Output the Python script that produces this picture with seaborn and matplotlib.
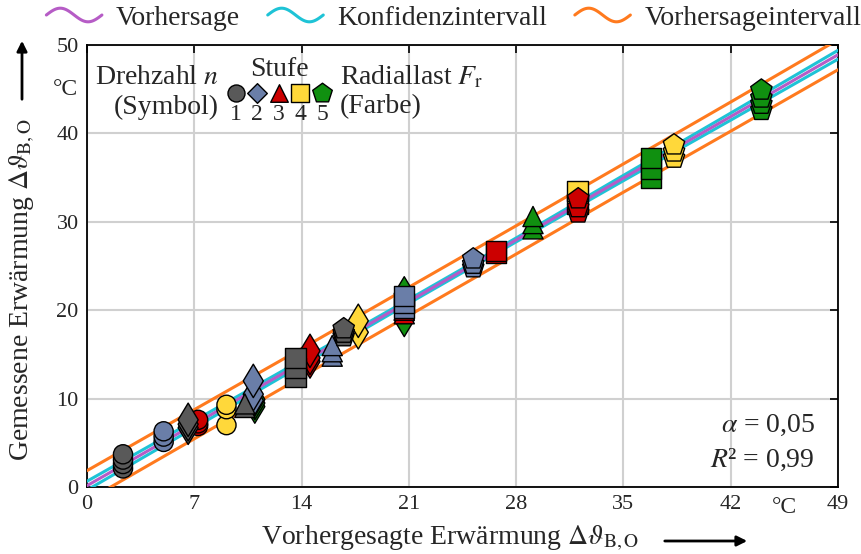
import numpy as np
import pandas as pd
import matplotlib
matplotlib.use("Agg")
import matplotlib.pyplot as plt
import seaborn as sns
from matplotlib.lines import Line2D
from matplotlib.legend_handler import HandlerBase

# ---------------- data ----------------
# each group: predicted value, Drehzahl stage (marker), Radiallast stage (colour), measured values
grp_pred = [2.35, 5.0, 6.6, 7.25, 9.1, 10.3, 10.95, 10.85, 13.6, 14.55, 16.0, 16.75, 17.7,
            20.7, 20.7, 20.7, 25.2, 26.7, 29.1, 32.0, 32.05, 36.8, 38.3, 44.0]
grp_n = [1, 1, 2, 1, 1, 3, 2, 2, 4, 2, 3, 5, 2,
         2, 3, 4, 5, 4, 3, 4, 5, 4, 5, 5]
grp_f = [1, 2, 1, 3, 4, 1, 5, 2, 1, 3, 2, 1, 4,
         5, 3, 2, 2, 3, 5, 4, 3, 5, 4, 5]
grp_meas = [
    [3.7, 3.1, 2.6, 2.1],
    [6.3, 5.7, 5.1],
    [7.6, 7.1, 6.7],
    [7.6, 7.2, 6.9],
    [9.3, 8.8, 7.0],
    [9.4, 9.0],
    [9.9, 9.5, 9.1],
    [12.0, 10.5, 9.8],
    [14.6, 13.5, 12.4],
    [15.4, 14.6, 14.2],
    [16.0, 15.3, 14.8],
    [17.9, 17.4, 17.0],
    [18.8, 17.5],
    [21.9, 18.9],
    [20.0, 19.6],
    [21.6, 20.8, 20.2],
    [25.8, 25.2, 24.8],
    [26.7, 26.5],
    [30.6, 29.8, 29.2],
    [33.5, 32.0],
    [32.6, 31.6, 31.0],
    [37.2, 36.0, 35.0],
    [38.7, 37.9, 37.2],
    [44.9, 44.0, 43.3, 42.6],
]

# regression line, confidence and prediction bands (read at the x grid)
band_x = [0, 7, 14, 21, 28, 35, 42, 49]
fit_y = [0.15, 7.1, 14.05, 21.0, 27.95, 34.95, 41.9, 48.9]
ci_upper = [0.65, 7.5, 14.35, 21.22, 28.17, 35.25, 42.3, 49.4]
ci_lower = [-0.35, 6.7, 13.75, 20.78, 27.73, 34.65, 41.5, 48.4]
pi_upper = [1.85, 8.75, 15.65, 22.6, 29.55, 36.55, 43.55, 50.6]
pi_lower = [-1.55, 5.45, 12.45, 19.4, 26.35, 33.35, 40.25, 47.2]

x_ticks = [0, 7, 14, 21, 28, 35, 42, 49]
y_ticks = [0, 10, 20, 30, 40, 50]
stages = [1, 2, 3, 4, 5]

# ---------------- styling ----------------
sns.set_theme(style="white")
plt.rcParams["font.family"] = ["Liberation Serif", "DejaVu Serif"]
plt.rcParams["mathtext.fontset"] = "stix"

BIG = 20
c_fit = "#b65cc6"
c_ci = "#1ec3d6"
c_pi = "#ff7a1e"
stage_colors = {1: "#595959", 2: "#6a7ea8", 3: "#cc0000", 4: "#ffd83a", 5: "#109010"}
stage_markers = {1: "o", 2: "d", 3: "^", 4: "s", 5: "p"}
stage_sizes = {1: 190, 2: 290, 3: 210, 4: 210, 5: 260}

rows = []
for p, n, f, ms in zip(grp_pred, grp_n, grp_f, grp_meas):
    for m in sorted(ms):
        rows.append({"pred": p, "meas": m, "n": n, "F": f})
df = pd.DataFrame(rows)

fig = plt.figure(figsize=(8.62, 5.54), dpi=100)
ax = fig.add_axes([87 / 862, 1 - 487 / 554, 751 / 862, 442 / 554])

bands = pd.DataFrame({"x": band_x, "fit": fit_y, "ciu": ci_upper, "cil": ci_lower,
                      "piu": pi_upper, "pil": pi_lower})
for col, c in [("piu", c_pi), ("pil", c_pi), ("ciu", c_ci), ("cil", c_ci), ("fit", c_fit)]:
    sns.lineplot(data=bands, x="x", y=col, color=c, lw=2.2, ax=ax, legend=False, zorder=3)

for n in stages:
    sub = df[df["n"] == n]
    sns.scatterplot(data=sub, x="pred", y="meas", hue="F", palette=stage_colors,
                    marker=stage_markers[n], s=stage_sizes[n], edgecolor="black",
                    linewidth=1.0, ax=ax, legend=False, zorder=5)

ax.set_xlim(0, 49)
ax.set_ylim(0, 50)
ax.set_xticks(x_ticks)
ax.set_yticks(y_ticks)
ax.set_xticklabels([str(t) for t in x_ticks])
ax.set_yticklabels([str(t) for t in y_ticks])
ax.tick_params(direction="in", length=6, width=1.2, top=True, right=True,
               labelsize=16, color="black", pad=6)
ax.grid(True, color="#d0d0d0", lw=1.5)
ax.set_axisbelow(True)
for s in ax.spines.values():
    s.set_color("black")
    s.set_linewidth(1.3)
ax.set_xlabel("")
ax.set_ylabel("")

# unit labels
ax.text(45.5, -0.022, "°C", transform=ax.get_xaxis_transform(), ha="center", va="top", fontsize=17)
ax.text(-0.012, 45, "°C", transform=ax.get_yaxis_transform(), ha="right", va="center", fontsize=17)

# axis labels with arrows
fig.text(450 / 862, 1 - 538 / 554, r"Vorhergesagte Erwärmung $\Delta\vartheta_{\mathrm{B,O}}$",
         ha="center", va="center", fontsize=BIG)
fig.text(22 / 862, 1 - 290 / 554, r"Gemessene Erwärmung $\Delta\vartheta_{\mathrm{B,O}}$",
         ha="center", va="center", fontsize=BIG, rotation=90)
fig.add_artist(matplotlib.patches.FancyArrowPatch((662 / 862, 1 - 541 / 554), (750 / 862, 1 - 541 / 554),
               transform=fig.transFigure, arrowstyle="-|>", mutation_scale=15, lw=2, color="black"))
fig.add_artist(matplotlib.patches.FancyArrowPatch((22 / 862, 1 - 102 / 554), (22 / 862, 1 - 38 / 554),
               transform=fig.transFigure, arrowstyle="-|>", mutation_scale=15, lw=2, color="black"))

# inner legend (symbol / colour key)
def axf(px, py):
    return (px - 87) / 751, (487 - py) / 442

ax.text(*axf(219, 77), r"Drehzahl $n$", transform=ax.transAxes, ha="right", va="center", fontsize=BIG)
ax.text(*axf(219, 107), "(Symbol)", transform=ax.transAxes, ha="right", va="center", fontsize=BIG)
ax.text(*axf(279, 70), "Stufe", transform=ax.transAxes, ha="center", va="center", fontsize=BIG)
ax.text(*axf(340, 77), r"Radiallast $F_{\mathrm{r}}$", transform=ax.transAxes, ha="left", va="center", fontsize=BIG)
ax.text(*axf(340, 107), "(Farbe)", transform=ax.transAxes, ha="left", va="center", fontsize=BIG)
key_px = [236, 257, 279, 300, 322]
key_sizes = {1: 150, 2: 170, 3: 160, 4: 150, 5: 220}
for st, kx in zip(stages, key_px):
    xa, ya = axf(kx, 93)
    ax.scatter([xa], [ya], transform=ax.transAxes, marker=stage_markers[st] if st != 2 else "D",
               s=key_sizes[st] if st != 2 else 100,
               c=stage_colors[st], edgecolors="black", linewidths=1.0, zorder=6, clip_on=False)
    xa, yb = axf(kx, 115)
    ax.text(xa, yb, str(st), transform=ax.transAxes, ha="center", va="center", fontsize=17)

# statistics annotation
ax.text(*axf(815, 425), r"$\alpha$ = 0,05", transform=ax.transAxes, ha="right", va="center", fontsize=BIG)
ax.text(*axf(815, 460), r"$R$² = 0,99", transform=ax.transAxes, ha="right", va="center", fontsize=BIG)

# top legend with wavy handles
class WaveHandler(HandlerBase):
    def create_artists(self, legend, orig_handle, xdescent, ydescent, width, height, fontsize, trans):
        t = np.linspace(0, 1, 50)
        xs = -xdescent + t * width
        ys = -ydescent + height / 2 + 0.35 * height * np.sin(2 * np.pi * t)
        ln = Line2D(xs, ys, color=orig_handle.get_color(), lw=2.2)
        ln.set_transform(trans)
        return [ln]

handles = [Line2D([], [], color=c_fit), Line2D([], [], color=c_ci), Line2D([], [], color=c_pi)]
labels = ["Vorhersage", "Konfidenzintervall", "Vorhersageintervall"]
fig.legend(handles, labels, handler_map={Line2D: WaveHandler()}, loc="center right",
           bbox_to_anchor=(0.999, 1 - 18 / 554), ncol=3, frameon=False, fontsize=BIG,
           handlelength=2.0, handletextpad=0.5, columnspacing=1.0, borderaxespad=0, borderpad=0)

fig.savefig("out.png", dpi=100)
